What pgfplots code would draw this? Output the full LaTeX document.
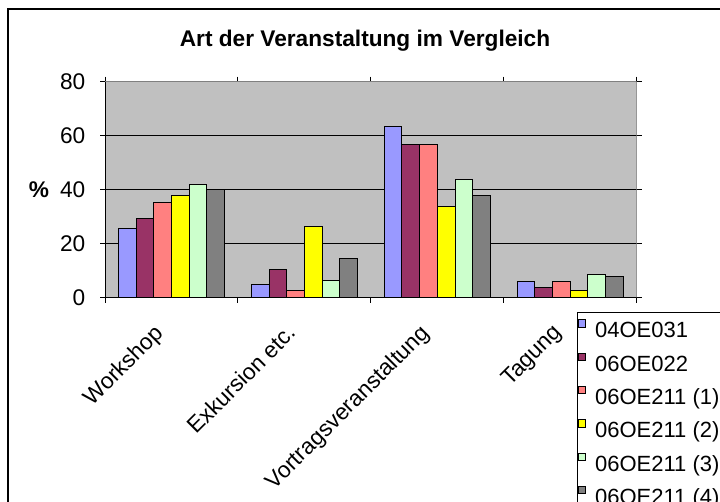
\documentclass[border=0pt]{standalone}
\usepackage{fontspec}
\setmainfont{Liberation Sans}
\usepackage{pgfplots}
\pgfplotsset{compat=1.18}

\definecolor{cBlue}{HTML}{9999FF}
\definecolor{cPlum}{HTML}{993366}
\definecolor{cSalmon}{HTML}{FF8080}
\definecolor{cYellow}{HTML}{FFFF00}
\definecolor{cMint}{HTML}{CCFFCC}
\definecolor{cGrey}{HTML}{808080}
\definecolor{plotbg}{HTML}{C0C0C0}
% invisible strut: gives every legend row the same 25pt pitch
\newcommand\lstrut{\rule[-7.14pt]{0pt}{25pt}}

\begin{document}
\begin{tikzpicture}
\useasboundingbox (0,0) rectangle (540pt,375.75pt);
\clip (0,0) rectangle (540pt,375.75pt);
\fill[white] (0,0) rectangle (540pt,375.75pt);
\draw[line width=1.5pt] (6pt,-20pt) rectangle (570pt,369pt);

\begin{axis}[
    at={(78.75pt,152.5pt)}, anchor=south west,
    scale only axis, width=398.8pt, height=162pt,
    ybar, bar width=0.133,
    xmin=-0.5, xmax=3.5, ymin=0, ymax=80,
    ytick={0,20,40,60,80},
    xtick={0,1,2,3},
    xticklabels={Workshop, Exkursion etc., Vortragsveranstaltung, Tagung},
    minor xtick={-0.5,0.5,1.5,2.5,3.5},
    major x tick style={draw=none},
    minor x tick style={draw=black, line width=0.75pt},
    tick align=outside, major tick length=3.75pt, minor tick length=3.75pt,
    ytick style={draw=black, line width=0.75pt},
    ymajorgrids, grid style={black, line width=0.75pt},
    axis line style={draw=none},
    axis background/.style={fill=plotbg},
    /pgf/number format/assume math mode=true,
    ticklabel style={font=\fontsize{17}{20}\selectfont},
    yticklabel style={xshift=-7.5pt},
    xticklabel style={xshift=-14pt, yshift=-10pt, rotate=45, anchor=north east},
    title={\bfseries Art der Veranstaltung im Vergleich},
    every axis title shift=0pt,
    title style={font=\fontsize{17}{20}\selectfont, at={(axis description cs:0.489,1.165)}, anchor=base},
    ylabel={\bfseries\%},
    ylabel style={font=\fontsize{17}{20}\selectfont, rotate=-90, at={(axis description cs:-0.124,0.5)}, anchor=center},
    every axis plot/.append style={draw=black, line width=0.75pt},
    legend image code/.code={\path (0pt,0pt); \draw[#1, line width=0.6pt] (0pt,2.66pt) rectangle (5.4pt,8.06pt);},
    legend style={draw=black, line width=0.75pt, fill=white, at={(axis description cs:0.888,-0.068)}, anchor=north west,
        font=\fontsize{16.5}{19}\selectfont, inner xsep=0pt, inner ysep=0.8pt,
        nodes={inner xsep=2.5pt, inner ysep=0pt, text depth=},
        /tikz/every odd column/.append style={column sep=4.5pt},
        legend cell align=left},
]
\addplot[fill=cBlue, bar shift=-0.3325] coordinates {(0,25.6) (1,4.7) (2,63.5) (3,5.9)};
\addplot[fill=cPlum, bar shift=-0.1995] coordinates {(0,29.4) (1,10.6) (2,56.6) (3,3.7)};
\addplot[fill=cSalmon, bar shift=-0.0665] coordinates {(0,35.2) (1,2.7) (2,56.6) (3,5.9)};
\addplot[fill=cYellow, bar shift=0.0665] coordinates {(0,37.8) (1,26.2) (2,33.7) (3,2.7)};
\addplot[fill=cMint, bar shift=0.1995] coordinates {(0,42.1) (1,6.4) (2,43.9) (3,8.5)};
\addplot[fill=cGrey, bar shift=0.3325] coordinates {(0,40.0) (1,14.4) (2,37.8) (3,7.9)};
\legend{{\lstrut 04OE031}, {\lstrut 06OE022}, {\lstrut 06OE211 (1)}, {\lstrut 06OE211 (2)}, {\lstrut 06OE211 (3)}, {\lstrut 06OE211 (4)}}
\draw[cGrey, line width=0.75pt] (rel axis cs:0,1) -- (rel axis cs:1,1) -- (rel axis cs:1,0);
\draw[black, line width=0.75pt] (rel axis cs:0,1) -- (rel axis cs:0,0) -- (rel axis cs:1,0);
\end{axis}
\end{tikzpicture}
\end{document}
